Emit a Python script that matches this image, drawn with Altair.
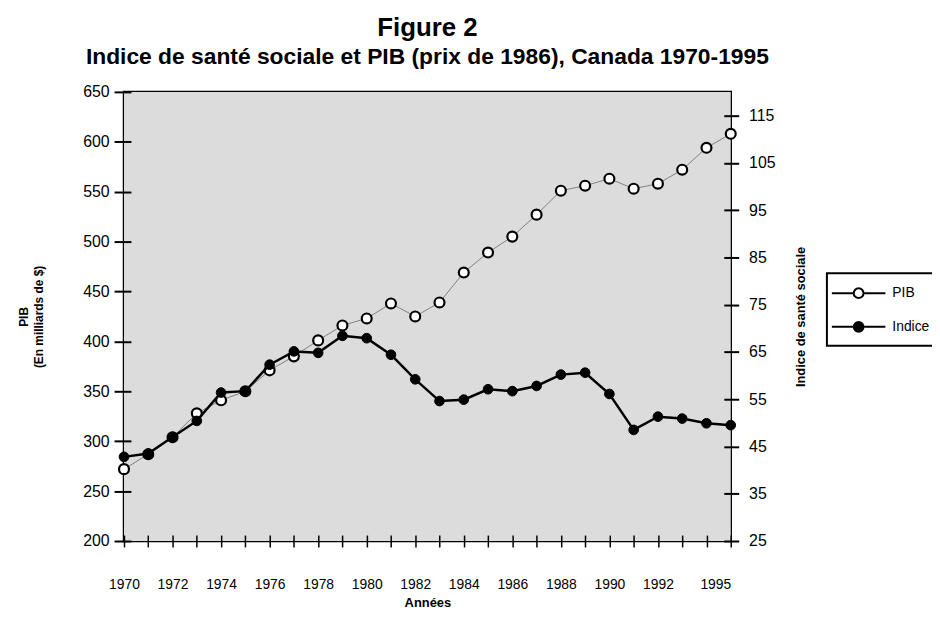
import altair as alt
import pandas as pd

# ---- data ----
years = list(range(1970, 1996))
pib = [272, 287, 304, 328, 341, 350, 371, 385, 401, 416, 423, 438, 425, 439,
       469, 489, 505, 527, 551, 556, 563, 553, 558, 572, 594, 608]
indice = [42.8, 43.5, 47.0, 50.4, 56.4, 56.7, 62.3, 65.1, 64.8, 68.4, 67.9, 64.4,
          59.2, 54.6, 54.9, 57.1, 56.7, 57.8, 60.2, 60.6, 56.1, 48.5, 51.3, 50.9,
          49.9, 49.5]
series_names = ["PIB", "Indice"]
series_fills = ["white", "black"]
left_ticks = list(range(200, 651, 50))
right_ticks = list(range(25, 116, 10))
x_label_years = [1970, 1972, 1974, 1976, 1978, 1980, 1982, 1984, 1986, 1988, 1990, 1992, 1995]

df = pd.DataFrame({"Année": years, "PIB": pib, "Indice": indice})

FONT = "Liberation Sans"
LEGEND_PATH = ("M-3,0H-0.55M0.55,0H3"
               "M-0.55,0A0.55,0.55 0 1,0 0.55,0A0.55,0.55 0 1,0 -0.55,0Z")

label_test = " || ".join(f"datum.value == {y}" for y in x_label_years)

x_enc = alt.X(
    "Année:Q",
    scale=alt.Scale(domain=[1970, 1995], nice=False, zero=False),
    axis=alt.Axis(
        values=years, format="d", labelExpr=f"({label_test}) ? datum.label : ''",
        labelOverlap=False, labelFlush=False,
        labelAlign=alt.condition("datum.value == 1995", alt.value("right"), alt.value("center")),
        domain=False, offset=-6, tickSize=12, tickWidth=1.5, tickColor="black",
        labelFontSize=14, labelPadding=31, grid=False, zindex=1,
        title="Années", titleFontSize=13, titleFontWeight="bold", titlePadding=5,
    ),
)

y_left = alt.Y(
    "PIB:Q",
    scale=alt.Scale(domain=[200, 650], nice=False, zero=False),
    axis=alt.Axis(
        orient="left", values=left_ticks, domain=False, offset=-7, tickSize=17,
        tickWidth=2, tickColor="black", labelFontSize=16, labelPadding=5, grid=False,
        zindex=1,
        title=["PIB", "(En milliards de $)"], titleFontSize=12, titleFontWeight="bold",
        titleLineHeight=16, titlePadding=37,
    ),
)

y_right = alt.Y(
    "Indice:Q",
    scale=alt.Scale(domain=[25, 120], nice=False, zero=False),
    axis=alt.Axis(
        orient="right", values=right_ticks, domain=False, offset=-7, tickSize=15,
        tickWidth=2, tickColor="black", labelFontSize=16, labelPadding=10, grid=False,
        zindex=1,
        title="Indice de santé sociale", titleFontSize=13, titleFontWeight="bold",
        titleAngle=270, titlePadding=33,
    ),
)

legend = alt.Legend(
    title=None, orient="none", legendX=709, legendY=183,
    symbolType=LEGEND_PATH, symbolSize=324, symbolStrokeColor="black",
    symbolStrokeWidth=2, symbolOffset=12, labelOffset=24,
    labelFontSize=14, labelFont=FONT, labelColor="black",
    padding=10, rowPadding=15, strokeColor="black", fillColor="white",
)
fill_scale = alt.Scale(domain=series_names, range=series_fills)

# plot-area background as a full-size rect (no position channels -> spans the view)
bg = alt.Chart(pd.DataFrame({"k": [0]})).mark_rect(color="#dcdcdc").encode(
    opacity=alt.value(1)
)

base = alt.Chart(df)

pib_line = base.mark_line(color="#808080", strokeWidth=1).encode(x=x_enc, y=y_left)
pib_pts = base.transform_calculate(serie="'PIB'").mark_point(
    filled=True, shape="circle", size=100, stroke="black", strokeWidth=2.2, opacity=1
).encode(
    x=x_enc, y=y_left,
    fill=alt.Fill("serie:N", scale=fill_scale, legend=legend),
)
ind_line = base.mark_line(color="black", strokeWidth=2.5).encode(x=x_enc, y=y_right)
ind_pts = base.transform_calculate(serie="'Indice'").mark_point(
    filled=True, shape="circle", size=95, stroke="black", strokeWidth=1, opacity=1
).encode(
    x=x_enc, y=y_right,
    fill=alt.Fill("serie:N", scale=fill_scale, legend=legend),
)

pib_layer = alt.layer(pib_line, pib_pts)
ind_layer = alt.layer(ind_line, ind_pts)

chart = alt.layer(bg, pib_layer, ind_layer).resolve_scale(y="independent").properties(
    width=612, height=453,
    autosize=alt.AutoSizeParams(type="none"),
    padding={"left": 117, "top": 82, "right": 203, "bottom": 70},
    title=alt.TitleParams(
        text="Figure 2",
        subtitle="Indice de santé sociale et PIB (prix de 1986), Canada 1970-1995",
        font=FONT, fontSize=26, fontWeight="bold", color="black",
        subtitleFont=FONT, subtitleFontSize=23, subtitleFontWeight="bold",
        subtitleColor="black", subtitlePadding=5, offset=15, anchor="middle",
    ),
).configure_view(
    stroke="black", strokeWidth=2.5,
).configure_axis(
    labelFont=FONT, titleFont=FONT, labelColor="black", titleColor="black",
).configure_legend(
    strokeWidth=2,
)

chart.save("out.html", embed_options={"renderer": "svg", "actions": False})
